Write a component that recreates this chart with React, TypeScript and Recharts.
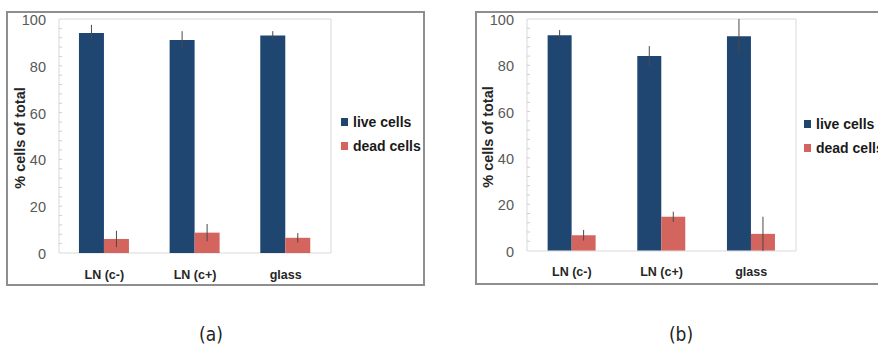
import React from 'react';
import { BarChart, Bar, XAxis, YAxis, CartesianGrid, ErrorBar } from 'recharts';

const categories = ['LN (c-)', 'LN (c+)', 'glass'];
const liveA = [94, 91, 93];
const liveErrA = [3.5, 3.8, 1.8];
const deadA = [6, 8.7, 6.5];
const deadErrA = [3.5, 3.7, 2];
const liveB = [93, 84, 92.5];
const liveErrB = [2.2, 4.3, 7.5];
const deadB = [6.6, 14.6, 7.2];
const deadErrB = [2.3, 2.2, 7.4];
const yTicks = [0, 4, 8, 12, 16, 20, 24, 28, 32, 36, 40, 44, 48, 52, 56, 60, 64, 68, 72, 76, 80, 84, 88, 92, 96, 100];
const seriesNames = ['live cells', 'dead cells'];
const panelLabels = ['(a)', '(b)'];

const LIVE = '#1F4571';
const DEAD = '#D4645E';

const build = (live: number[], liveErr: number[], dead: number[], deadErr: number[]) =>
  categories.map((c, i) => ({ name: c, live: live[i], liveErr: liveErr[i], dead: dead[i], deadErr: deadErr[i] }));

const dataA = build(liveA, liveErrA, deadA, deadErrA);
const dataB = build(liveB, liveErrB, deadB, deadErrB);

const YTick = (props: any) => {
  const { x, y, payload } = props;
  const v = payload.value;
  const major = v % 20 === 0;
  return (
    <g>
      {v !== 0 && v !== 100 && <line x1={x} x2={x + 3} y1={y} y2={y} stroke="#cfcfcf" strokeWidth={1} />}
      {major && (
        <text x={x - 13} y={y + 1} textAnchor="end" dominantBaseline="central" fontSize={14.5} fill="#595959" fontFamily="Liberation Sans, Arial, sans-serif">
          {v}
        </text>
      )}
    </g>
  );
};

const makeXTick = (dy: number) => (props: any) => {
  const { x, y, payload } = props;
  return (
    <text x={x} y={y + dy} textAnchor="middle" dominantBaseline="central" fontSize={12.5} fontWeight="bold" fill="#262626" fontFamily="Liberation Sans, Arial, sans-serif">
      {payload.value}
    </text>
  );
};

const LegendBox = ({ left, top }: { left: number; top: number }) => (
  <div style={{ position: 'absolute', left, top, fontFamily: 'Liberation Sans, Arial, sans-serif', fontWeight: 'bold', fontSize: 14, color: '#1a1a1a' }}>
    {seriesNames.map((n, i) => (
      <div key={n} style={{ display: 'flex', alignItems: 'center', height: 24, whiteSpace: 'nowrap' }}>
        <div style={{ width: 7, height: 8, background: i === 0 ? LIVE : DEAD, marginRight: 5 }} />
        <span>{n}</span>
      </div>
    ))}
  </div>
);

type PanelProps = {
  data: any[];
  left: number;
  width: number;
  plotLeft: number;
  plotRight: number;
  plotTop: number;
  plotBottom: number;
  gap: string;
  titleX: number;
  labelDy: number;
};

const Panel = ({ data, left, width, plotLeft, plotRight, plotTop, plotBottom, gap, titleX, labelDy }: PanelProps) => {
  const height = 300;
  const titleY = (plotTop + plotBottom) / 2 + 2;
  const XTick = makeXTick(labelDy);
  return (
    <div style={{ position: 'absolute', left, top: 0 }}>
      <BarChart
        width={width}
        height={height}
        data={data}
        margin={{ top: plotTop, right: width - plotRight, bottom: height - plotBottom - 30, left: 0 }}
        barCategoryGap={gap}
        barGap={0}
      >
        <CartesianGrid
          stroke="#d9d9d9"
          horizontalCoordinatesGenerator={({ offset }: any) => [offset.top, offset.top + offset.height]}
          verticalCoordinatesGenerator={({ offset }: any) => [offset.left, offset.left + offset.width]}
        />
        <XAxis dataKey="name" height={30} axisLine={false} tickLine={false} tickSize={0} tickMargin={0} tick={<XTick />} interval={0} />
        <YAxis
          width={plotLeft}
          domain={[0, 100]}
          ticks={yTicks}
          interval={0}
          axisLine={false}
          tickLine={false}
          tickSize={0}
          tickMargin={0}
          tick={<YTick />}
          label={{
            content: () => (
              <text
                x={titleX}
                y={titleY}
                transform={`rotate(-90, ${titleX}, ${titleY})`}
                textAnchor="middle"
                dominantBaseline="central"
                fontSize={14.5}
                fontWeight="bold"
                fill="#262626"
                fontFamily="Liberation Sans, Arial, sans-serif"
              >
                % cells of total
              </text>
            ),
          }}
        />
        <Bar dataKey="live" name={seriesNames[0]} fill={LIVE} isAnimationActive={false}>
          <ErrorBar dataKey="liveErr" width={0} stroke="#4a4a4a" strokeWidth={1} />
        </Bar>
        <Bar dataKey="dead" name={seriesNames[1]} fill={DEAD} isAnimationActive={false}>
          <ErrorBar dataKey="deadErr" width={0} stroke="#4a4a4a" strokeWidth={1} />
        </Bar>
      </BarChart>
    </div>
  );
};

export default function App() {
  return (
    <div style={{ position: 'absolute', left: 0, top: 0, width: 878, height: 346, overflow: 'hidden', background: '#fff' }}>
      <div style={{ position: 'absolute', left: 6, top: 11, width: 415, height: 271, border: '2px solid #8e8e8e' }} />
      <div style={{ position: 'absolute', left: 475, top: 11, width: 500, height: 270, border: '2px solid #8e8e8e' }} />
      <Panel data={dataA} left={0} width={440} plotLeft={59} plotRight={331} plotTop={19} plotBottom={253} gap="22%" titleX={20} labelDy={22} />
      <Panel data={dataB} left={440} width={438} plotLeft={87} plotRight={356} plotTop={19} plotBottom={251} gap="23%" titleX={48} labelDy={21} />
      <LegendBox left={341} top={110} />
      <LegendBox left={804} top={112} />
      {panelLabels.map((l, i) => (
        <div
          key={l}
          style={{
            position: 'absolute',
            left: i === 0 ? 191 : 661,
            width: 40,
            top: 322,
            textAlign: 'center',
            fontSize: 19,
            lineHeight: '24px',
            color: '#222',
            fontFamily: '"Liberation Sans Narrow", "DejaVu Sans Condensed", sans-serif',
          }}
        >
          {l}
        </div>
      ))}
    </div>
  );
}
